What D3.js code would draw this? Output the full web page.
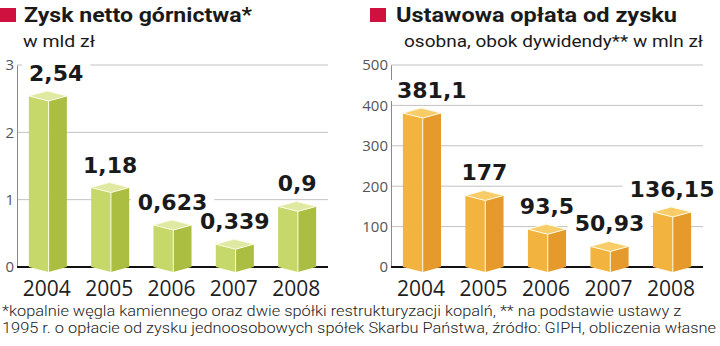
<!DOCTYPE html>
<html>
<head>
<meta charset="utf-8">
<script src="https://cdn.jsdelivr.net/npm/d3@7"></script>
<style>
  html, body { margin: 0; padding: 0; background: #fff; }
  svg { display: block; }
</style>
</head>
<body>
<svg id="chart" width="720" height="346"></svg>
<script>
// Years shown under both panels
const years = ["2004", "2005", "2006", "2007", "2008"];

// Net profit of the mining sector, bln PLN
const profitValues = [2.54, 1.18, 0.623, 0.339, 0.9];
const profitTicks = [0, 1, 2, 3];

// Statutory profit fee, mln PLN
const feeValues = [381.1, 177, 93.5, 50.93, 136.15];
const feeTicks = [0, 100, 200, 300, 400, 500];

const titles = ["Zysk netto górnictwa*", "Ustawowa opłata od zysku"];
const subtitles = ["w mld zł", "osobna, obok dywidendy** w mln zł"];

const footnotes = [
  "*kopalnie węgla kamiennego oraz dwie spółki restrukturyzacji kopalń, ** na podstawie ustawy z",
  "1995 r. o opłacie od zysku jednoosobowych spółek Skarbu Państwa, źródło: GIPH, obliczenia własne"
];

const svg = d3.select("#chart");
const fmt = v => String(v).replace(".", ",");

const panels = [
  {
    values: profitValues, ticks: profitTicks, domain: [0, 3],
    x0: 17, x1: 328, labelInset: 12,
    title: titles[0], titleX: 24, titleLen: 228, squareX: 0,
    subtitle: subtitles[0], subX: 23, subLen: 72,
    colors: { left: "#c6d86a", right: "#abbe41", top: "#dfe9a2" }
  },
  {
    values: feeValues, ticks: feeTicks, domain: [0, 500],
    x0: 391, x1: 703, labelInset: 6,
    title: titles[1], titleX: 396, titleLen: 281, squareX: 370,
    subtitle: subtitles[1], subX: 404, subLen: 299,
    colors: { left: "#f2b33f", right: "#e59a2b", top: "#f7cc69" }
  }
];

const yTop = 65, yBottom = 267;

panels.forEach(p => {
  const g = svg.append("g");

  // Header: red square, title, unit line
  g.append("rect")
    .attr("x", p.squareX).attr("y", 8)
    .attr("width", 16).attr("height", 14)
    .attr("fill", "#cf1140");
  g.append("text")
    .attr("x", p.titleX).attr("y", 22)
    .attr("font-family", "Roboto, 'Open Sans', sans-serif")
    .attr("font-weight", 700).attr("font-size", 21)
    .attr("fill", "#1a1a1a")
    .attr("textLength", p.titleLen).attr("lengthAdjust", "spacingAndGlyphs")
    .text(p.title);
  g.append("text")
    .attr("x", p.subX).attr("y", 47)
    .attr("font-family", "Roboto, 'Open Sans', sans-serif")
    .attr("font-size", 17)
    .attr("fill", "#1a1a1a")
    .attr("textLength", p.subLen).attr("lengthAdjust", "spacingAndGlyphs")
    .text(p.subtitle);

  const x = d3.scaleBand()
    .domain(years)
    .range([p.x0, p.x1])
    .paddingInner(0.39)
    .paddingOuter(0.19);

  const y = d3.scaleLinear().domain(p.domain).range([yBottom, yTop]);

  // Horizontal gridlines
  g.append("g").selectAll("line")
    .data(p.ticks.filter(t => t > 0))
    .join("line")
    .attr("x1", p.x0).attr("x2", p.x1)
    .attr("y1", d => y(d)).attr("y2", d => y(d))
    .attr("stroke", "#c2c2c2").attr("stroke-width", 1);

  // Vertical axis with tick labels
  const yAxis = d3.axisLeft(y)
    .tickValues(p.ticks)
    .tickSize(0)
    .tickPadding(3)
    .tickFormat(d3.format("d"));
  const ya = g.append("g")
    .attr("transform", `translate(${p.x0},0)`)
    .call(yAxis);
  ya.select(".domain").attr("stroke", "#8a8a8a").attr("stroke-width", 1);
  ya.selectAll("text")
    .attr("font-family", "'Open Sans', sans-serif")
    .attr("font-size", 15)
    .attr("fill", "#555");

  // Zero baseline
  g.append("line")
    .attr("x1", p.x0).attr("x2", p.x1)
    .attr("y1", y(0)).attr("y2", y(0))
    .attr("stroke", "#111").attr("stroke-width", 2);

  // Box-shaped bars: left face, right face and top
  const depth = 5;
  const bars = g.append("g").selectAll("g")
    .data(p.values.map((v, i) => ({ v, year: years[i] })))
    .join("g");

  const geom = d => {
    const bw = x.bandwidth();
    const c = x(d.year) + bw * 0.52;
    const L = x(d.year), R = x(d.year) + bw;
    const yv = y(d.v), y0 = y(0);
    return { c, L, R, yv, y0 };
  };
  const pts = a => a.map(q => q.join(",")).join(" ");

  bars.append("polygon")
    .attr("points", d => {
      const { c, L, yv, y0 } = geom(d);
      return pts([[L, yv], [c, yv + depth], [c, y0 + depth], [L, y0]]);
    })
    .attr("fill", p.colors.left);
  bars.append("polygon")
    .attr("points", d => {
      const { c, R, yv, y0 } = geom(d);
      return pts([[c, yv + depth], [R, yv], [R, y0], [c, y0 + depth]]);
    })
    .attr("fill", p.colors.right);
  bars.append("line")
    .attr("x1", d => geom(d).c).attr("x2", d => geom(d).c)
    .attr("y1", d => geom(d).yv + depth).attr("y2", d => geom(d).y0 + depth)
    .attr("stroke", "#fdfbe6").attr("stroke-width", 1);
  bars.append("polygon")
    .attr("points", d => {
      const { c, L, R, yv } = geom(d);
      return pts([[L, yv], [L + R - c, yv - depth], [R, yv], [c, yv + depth]]);
    })
    .attr("fill", p.colors.top)
    .attr("stroke", "#fdfbe6").attr("stroke-width", 1)
    .attr("stroke-linejoin", "round");

  // Value labels on a white plate so gridlines break around them
  const labels = g.append("g").selectAll("g")
    .data(p.values.map((v, i) => ({ v, year: years[i] })))
    .join("g");
  labels.each(function (d) {
    const lg = d3.select(this);
    const bw = x.bandwidth();
    const t = lg.append("text")
      .attr("x", x(d.year) + bw / 2)
      .attr("y", y(d.v) - 15)
      .attr("text-anchor", "middle")
      .attr("font-family", "'DejaVu Sans', sans-serif")
      .attr("font-weight", 700)
      .attr("font-size", 22)
      .attr("fill", "#1a1a1a")
      .text(fmt(d.v));
    let b = t.node().getBBox();
    const minLeft = p.x0 + p.labelInset;
    if (b.x < minLeft) {
      t.attr("x", +t.attr("x") + (minLeft - b.x));
      b = t.node().getBBox();
    }
    lg.insert("rect", "text")
      .attr("x", b.x - 7).attr("y", b.y + 2)
      .attr("width", b.width + 14).attr("height", b.height - 4)
      .attr("fill", "#fff");
  });

  // Year labels
  g.append("g").selectAll("text")
    .data(years)
    .join("text")
    .attr("x", d => x(d) + x.bandwidth() / 2 - 1)
    .attr("y", 296)
    .attr("text-anchor", "middle")
    .attr("font-family", "'Open Sans', sans-serif")
    .attr("font-size", 21)
    .attr("fill", "#1f1f1f")
    .text(d => d);
});

// Footnotes: the second line spans the full width, the first keeps the same condensing
const notes = svg.append("g").selectAll("text")
  .data(footnotes)
  .join("text")
  .attr("x", 2)
  .attr("y", (d, i) => 316 + i * 17)
  .attr("font-family", "Roboto, sans-serif")
  .attr("font-weight", 300)
  .attr("font-size", 15.5)
  .attr("fill", "#222")
  .text(d => d);
const natural = notes.nodes().map(n => n.getComputedTextLength());
const squeeze = 714 / natural[1];
notes
  .attr("textLength", (d, i) => natural[i] * squeeze)
  .attr("lengthAdjust", "spacingAndGlyphs");
</script>
</body>
</html>
